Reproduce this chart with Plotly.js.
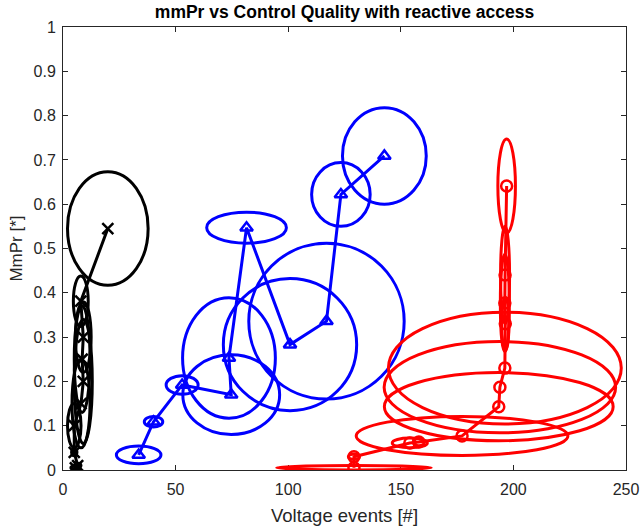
<!DOCTYPE html>
<html>
<head>
<meta charset="utf-8">
<script src="https://cdn.plot.ly/plotly-3.0.1.min.js"></script>
<style>html,body{margin:0;padding:0;background:#fff;}</style>
</head>
<body>
<div id="chart" style="width:642px;height:529px;"></div>
<script>
// Black series (x markers)
var blackX  = [5.5, 6.5, 5.0, 5.0, 8.0, 9.0, 8.5, 9.0, 7.9, 19.9];
var blackY  = [0.005, 0.01, 0.04, 0.10, 0.15, 0.20, 0.25, 0.30, 0.381, 0.545];
var blackRX = [2.0, 1.5, 1.2, 3.0, 4.0, 4.0, 3.5, 3.5, 3.3, 17.9];
var blackRY = [0.004, 0.005, 0.008, 0.05, 0.10, 0.14, 0.12, 0.08, 0.057, 0.128];

// Blue series (triangle markers)
var blueX  = [33.6, 40.2, 52.9, 74.7, 73.7, 81.5, 100.8, 117.0, 123.4, 142.7];
var blueY  = [0.034, 0.109, 0.192, 0.170, 0.253, 0.547, 0.283, 0.336, 0.622, 0.709];
var blueRX = [9.9, 4.1, 7.1, 21.5, 20.6, 17.7, 29.6, 34.5, 13.0, 18.6];
var blueRY = [0.020, 0.012, 0.021, 0.090, 0.136, 0.035, 0.149, 0.176, 0.072, 0.109];

// Red series (circle markers)
var redX  = [129.2, 129.2, 154.0, 158.0, 177.2, 193.5, 194.0, 196.2, 196.4, 196.2, 196.3, 197.0];
var redY  = [0.005, 0.030, 0.061, 0.063, 0.077, 0.143, 0.187, 0.230, 0.330, 0.377, 0.440, 0.641];
var redRX = [34.3, 2.5, 7.8, 2.5, 47.0, 50.8, 51.4, 51.7, 1.6, 2.0, 2.0, 3.9];
var redRY = [0.005, 0.006, 0.011, 0.008, 0.044, 0.077, 0.103, 0.126, 0.06, 0.11, 0.11, 0.106];

var LW = 3;
var FONT = 'Liberation Sans, Arial, sans-serif';
function series(x, y, color, symbol) {
  return {
    x: x, y: y, type: 'scatter', mode: 'lines+markers',
    line: {color: color, width: LW},
    marker: {symbol: symbol, size: 11, color: color, line: {color: color, width: 2.5}},
    showlegend: false, hoverinfo: 'x+y'
  };
}
function ellipses(x, y, rx, ry, color) {
  var s = [];
  for (var i = 0; i < x.length; i++) {
    s.push({type: 'circle', xref: 'x', yref: 'y', layer: 'above',
      x0: x[i] - rx[i], x1: x[i] + rx[i], y0: y[i] - ry[i], y1: y[i] + ry[i],
      line: {color: color, width: LW}});
  }
  return s;
}

var traces = [
  series(blackX, blackY, '#000000', 'x-thin-open'),
  series(blueX, blueY, '#0000ff', 'triangle-up-open'),
  series(redX, redY, '#ff0000', 'circle-open')
];
var shapes = [].concat(
  ellipses(blackX, blackY, blackRX, blackRY, '#000000'),
  ellipses(blueX, blueY, blueRX, blueRY, '#0000ff'),
  ellipses(redX, redY, redRX, redRY, '#ff0000')
);

var axisCommon = {
  showgrid: false, zeroline: false, showline: true, mirror: 'allticks',
  linecolor: '#262626', linewidth: 1, ticks: 'inside', ticklen: 5,
  tickcolor: '#262626', tickfont: {family: FONT, size: 16, color: '#262626'}
};
var layout = {
  width: 642, height: 529,
  margin: {l: 63, r: 16, t: 27, b: 59},
  paper_bgcolor: '#ffffff', plot_bgcolor: '#ffffff',
  title: {text: '<b>mmPr vs Control Quality with reactive access</b>',
    font: {family: FONT, size: 17.5, color: '#000000'},
    xref: 'paper', x: 0.5, xanchor: 'center', yref: 'container', y: 0.977, yanchor: 'middle'},
  xaxis: Object.assign({}, axisCommon, {range: [0, 250], tickmode: 'linear', tick0: 0, dtick: 50,
    ticklabelstandoff: 5,
    title: {text: 'Voltage events [#]', font: {family: FONT, size: 18.5, color: '#262626'}, standoff: 11}}),
  yaxis: Object.assign({}, axisCommon, {range: [0, 1], tickmode: 'linear', tick0: 0, dtick: 0.1,
    ticklabelstandoff: 3,
    title: {text: 'MmPr [*]', font: {family: FONT, size: 17, color: '#262626'}, standoff: 6}}),
  shapes: shapes
};
Plotly.newPlot('chart', traces, layout, {displayModeBar: false, staticPlot: true});
</script>
</body>
</html>
